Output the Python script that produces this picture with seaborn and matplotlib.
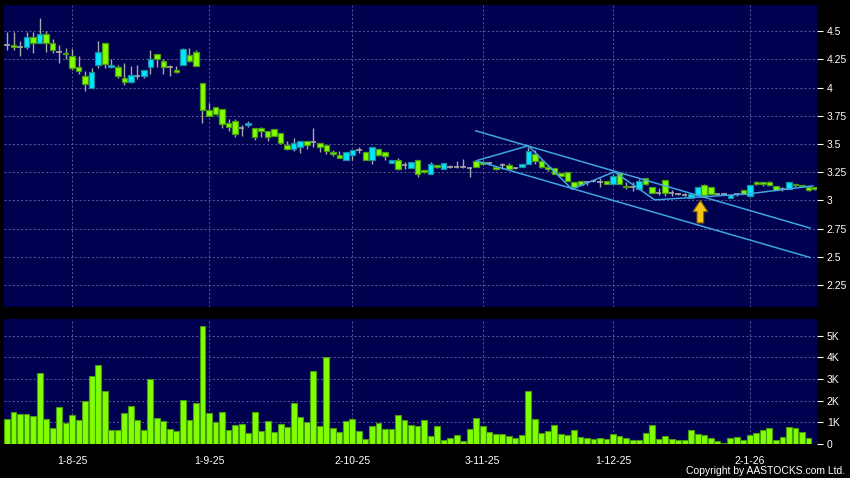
import numpy as np
import pandas as pd
import matplotlib
matplotlib.use("Agg")
import matplotlib.pyplot as plt
import seaborn as sns
from matplotlib.patches import Polygon

# trading calendar (HK), 18 Jul 2025 - 16 Jan 2026
holidays = ["2025-10-01", "2025-10-07", "2025-10-29", "2025-12-25", "2025-12-26", "2026-01-01"]
days = pd.bdate_range("2025-07-18", "2026-01-16")
days = days[~days.isin(pd.to_datetime(holidays))]

opens = [4.38, 4.38, 4.36, 4.36, 4.45, 4.40, 4.48, 4.40, 4.32, 4.31,
         4.28, 4.18, 4.10, 4.00, 4.20, 4.40, 4.18, 4.18, 4.09, 4.05,
         4.10, 4.10, 4.18, 4.30, 4.24, 4.18, 4.16, 4.20, 4.29, 4.32,
         4.04, 3.80, 3.83, 3.81, 3.69, 3.70, 3.64, 3.67, 3.64, 3.64,
         3.62, 3.63, 3.60, 3.49, 3.46, 3.47, 3.53, 3.52, 3.51, 3.49,
         3.43, 3.40, 3.36, 3.40, 3.45, 3.43, 3.36, 3.46, 3.43, 3.33,
         3.36, 3.31, 3.29, 3.36, 3.27, 3.23, 3.31, 3.28, 3.30, 3.30,
         3.30, 3.29, 3.35, 3.34, 3.33, 3.30, 3.31, 3.31, 3.29, 3.30,
         3.32, 3.41, 3.35, 3.30, 3.29, 3.24, 3.25, 3.16, 3.17, 3.16,
         3.17, 3.16, 3.17, 3.15, 3.24, 3.13, 3.12, 3.10, 3.20, 3.12,
         3.07, 3.18, 3.07, 3.06, 3.05, 3.02, 3.05, 3.14, 3.12, 3.06,
         3.06, 3.02, 3.06, 3.09, 3.04, 3.16, 3.16, 3.16, 3.13, 3.10,
         3.10, 3.15, 3.14, 3.12, 3.12]
highs = [4.49, 4.49, 4.41, 4.49, 4.49, 4.62, 4.50, 4.43, 4.38, 4.35,
         4.34, 4.28, 4.15, 4.17, 4.41, 4.40, 4.25, 4.20, 4.22, 4.19,
         4.20, 4.16, 4.33, 4.30, 4.25, 4.20, 4.19, 4.35, 4.35, 4.33,
         4.04, 3.86, 3.83, 3.81, 3.72, 3.72, 3.67, 3.70, 3.64, 3.65,
         3.62, 3.63, 3.60, 3.53, 3.55, 3.53, 3.53, 3.64, 3.51, 3.49,
         3.45, 3.44, 3.43, 3.45, 3.47, 3.43, 3.47, 3.46, 3.43, 3.36,
         3.38, 3.34, 3.34, 3.36, 3.27, 3.34, 3.31, 3.33, 3.31, 3.35,
         3.37, 3.30, 3.35, 3.35, 3.34, 3.30, 3.33, 3.33, 3.30, 3.32,
         3.47, 3.45, 3.36, 3.31, 3.29, 3.24, 3.25, 3.16, 3.17, 3.17,
         3.18, 3.20, 3.17, 3.23, 3.25, 3.16, 3.16, 3.19, 3.20, 3.12,
         3.11, 3.18, 3.09, 3.07, 3.07, 3.06, 3.12, 3.15, 3.12, 3.07,
         3.07, 3.05, 3.07, 3.09, 3.14, 3.17, 3.16, 3.17, 3.13, 3.12,
         3.16, 3.15, 3.14, 3.12, 3.12]
lows = [4.33, 4.33, 4.28, 4.34, 4.31, 4.40, 4.32, 4.31, 4.22, 4.25,
        4.16, 4.12, 3.97, 4.00, 4.17, 4.17, 4.17, 4.09, 4.02, 4.04,
        4.08, 4.09, 4.12, 4.18, 4.12, 4.10, 4.13, 4.20, 4.23, 4.19,
        3.69, 3.75, 3.76, 3.64, 3.62, 3.56, 3.57, 3.65, 3.54, 3.56,
        3.53, 3.57, 3.50, 3.45, 3.44, 3.42, 3.46, 3.47, 3.43, 3.41,
        3.39, 3.38, 3.36, 3.36, 3.42, 3.36, 3.32, 3.39, 3.36, 3.33,
        3.27, 3.28, 3.29, 3.21, 3.24, 3.23, 3.29, 3.28, 3.29, 3.29,
        3.29, 3.21, 3.30, 3.31, 3.31, 3.27, 3.28, 3.27, 3.28, 3.30,
        3.32, 3.32, 3.29, 3.26, 3.23, 3.22, 3.17, 3.12, 3.14, 3.14,
        3.16, 3.12, 3.15, 3.15, 3.15, 3.10, 3.08, 3.10, 3.14, 3.07,
        3.05, 3.04, 3.04, 3.05, 3.04, 3.02, 3.05, 3.04, 3.06, 3.05,
        3.05, 3.02, 3.04, 3.06, 3.04, 3.14, 3.13, 3.13, 3.09, 3.08,
        3.10, 3.12, 3.12, 3.08, 3.09]
closes = [4.38, 4.36, 4.36, 4.45, 4.40, 4.48, 4.40, 4.33, 4.32, 4.30,
          4.17, 4.15, 4.03, 4.14, 4.32, 4.21, 4.20, 4.10, 4.05, 4.11,
          4.10, 4.16, 4.25, 4.25, 4.18, 4.18, 4.14, 4.34, 4.24, 4.19,
          3.80, 3.75, 3.77, 3.68, 3.65, 3.59, 3.64, 3.69, 3.56, 3.62,
          3.56, 3.57, 3.51, 3.46, 3.51, 3.53, 3.49, 3.52, 3.47, 3.44,
          3.41, 3.38, 3.43, 3.45, 3.45, 3.36, 3.47, 3.40, 3.39, 3.36,
          3.28, 3.31, 3.34, 3.23, 3.25, 3.32, 3.30, 3.33, 3.30, 3.30,
          3.30, 3.29, 3.30, 3.32, 3.33, 3.28, 3.31, 3.28, 3.29, 3.32,
          3.44, 3.35, 3.30, 3.28, 3.23, 3.22, 3.17, 3.12, 3.14, 3.16,
          3.17, 3.16, 3.15, 3.22, 3.15, 3.12, 3.12, 3.17, 3.15, 3.07,
          3.07, 3.07, 3.07, 3.06, 3.05, 3.06, 3.12, 3.05, 3.06, 3.06,
          3.06, 3.05, 3.06, 3.06, 3.14, 3.15, 3.15, 3.14, 3.09, 3.10,
          3.16, 3.14, 3.13, 3.09, 3.10]
volume_k = [1.17, 1.48, 1.37, 1.38, 1.29, 3.28, 1.15, 0.72, 1.69, 0.98,
            1.35, 1.11, 1.98, 3.15, 3.66, 2.46, 0.66, 0.66, 1.43, 1.77,
            1.11, 0.65, 3.02, 1.22, 1.05, 0.71, 0.60, 2.05, 1.11, 1.91,
            5.45, 1.45, 1.03, 1.48, 0.65, 0.89, 0.92, 0.52, 1.46, 0.60,
            1.05, 0.55, 0.94, 0.78, 1.89, 1.25, 1.02, 3.37, 0.82, 4.02,
            0.75, 0.57, 1.06, 1.14, 0.60, 0.23, 0.85, 0.97, 0.68, 0.71,
            1.35, 1.12, 0.89, 0.82, 1.09, 0.38, 0.83, 0.20, 0.29, 0.42,
            0.15, 0.71, 1.22, 0.85, 0.57, 0.45, 0.45, 0.38, 0.29, 0.43,
            2.46, 1.17, 0.52, 0.62, 0.86, 0.48, 0.42, 0.66, 0.32, 0.29,
            0.23, 0.29, 0.23, 0.46, 0.35, 0.28, 0.18, 0.20, 0.49, 0.88,
            0.22, 0.37, 0.23, 0.20, 0.18, 0.63, 0.45, 0.40, 0.29, 0.14,
            0.06, 0.26, 0.31, 0.18, 0.42, 0.50, 0.66, 0.72, 0.18, 0.31,
            0.78, 0.74, 0.54, 0.26, 0.0]

tick_dates = ["2025-08-01", "2025-09-01", "2025-10-02", "2025-11-03", "2025-12-01", "2026-01-02"]
tick_labels = ["1-8-25", "1-9-25", "2-10-25", "3-11-25", "1-12-25", "2-1-26"]
price_ticks = [2.25, 2.5, 2.75, 3.0, 3.25, 3.5, 3.75, 4.0, 4.25, 4.5]
price_labels = ["2.25", "2.5", "2.75", "3", "3.25", "3.5", "3.75", "4", "4.25", "4.5"]
vol_ticks = [0, 1, 2, 3, 4, 5]
vol_labels = ["0", "1K", "2K", "3K", "4K", "5K"]

# drawn trend channel (x = trading-day index, y = price)
upper_x = [71.9, 123.3]
upper_y = [3.618, 2.754]
lower_x = [72.0, 123.3]
lower_y = [3.352, 2.493]
zigzag_x = [72.0, 80.0, 86.7, 93.2, 99.4, 113.7, 123.7]
zigzag_y = [3.352, 3.485, 3.10, 3.254, 3.005, 3.058, 3.129]
arrow_x = 106.4
arrow_tip, arrow_neck, arrow_base = 3.0, 2.90, 2.80

navy = "#000050"
green, green_edge = "#80ff00", "#4a9a10"
cyan, cyan_edge = "#00e8ff", "#1a8aa0"
wick = "#a8a8a8"
grid_kw = dict(color="#66669a", linestyle=(0, (2.5, 2.5)), linewidth=0.6)

sns.set_style("dark")
plt.rcParams["font.family"] = ["Liberation Sans", "DejaVu Sans"]

fig = plt.figure(figsize=(8.5, 4.78), dpi=100, facecolor="black")
ax = fig.add_axes([4 / 850, 171 / 478, 813 / 850, 302 / 478], facecolor=navy)
axv = fig.add_axes([4 / 850, 34 / 478, 813 / 850, 125 / 478], facecolor=navy)

x = np.arange(len(opens))
o = np.array(opens)
c = np.array(closes)
up, down, flat = c > o, c < o, c == o
tick_pos = [days.get_loc(pd.Timestamp(d)) for d in tick_dates]

# candles
ax.vlines(x, lows, highs, color=wick, linewidth=1, zorder=2)
ax.bar(x[up], (c - o)[up], bottom=o[up], width=0.85, color=cyan,
       edgecolor=cyan_edge, linewidth=0.9, zorder=3)
ax.bar(x[down], (o - c)[down], bottom=c[down], width=0.85, color=green,
       edgecolor=green_edge, linewidth=0.9, zorder=3)
ax.hlines(o[flat], x[flat] - 0.42, x[flat] + 0.42, color=wick, linewidth=1.2, zorder=3)

# channel lines
for lx, ly in [(upper_x, upper_y), (lower_x, lower_y), (zigzag_x, zigzag_y)]:
    sns.lineplot(x=lx, y=ly, ax=ax, color="#3ea6e0", linewidth=1.1, sort=False, zorder=4)

hw, sw = 1.15, 0.52
arrow = Polygon([(arrow_x, arrow_tip), (arrow_x + hw, arrow_neck), (arrow_x + sw, arrow_neck),
                 (arrow_x + sw, arrow_base), (arrow_x - sw, arrow_base), (arrow_x - sw, arrow_neck),
                 (arrow_x - hw, arrow_neck)], closed=True, facecolor="#f6c31c",
                edgecolor="#7a5a00", linewidth=0.8, zorder=5)
ax.add_patch(arrow)

ax.set_xlim(-0.46, 124.3)
ax.set_ylim(2.055, 4.733)
ax.yaxis.tick_right()
ax.set_yticks(price_ticks, price_labels)
ax.set_xticks(tick_pos, [""] * len(tick_pos))
ax.tick_params(axis="y", colors="white", length=4, width=0.8, pad=3, labelsize=7.5)
ax.tick_params(axis="x", length=0)
ax.grid(True, **grid_kw)
ax.set_axisbelow(True)

# volume
sns.barplot(x=x, y=volume_k, native_scale=True, width=0.9, color=green, saturation=1,
            edgecolor=green_edge, linewidth=0.8, errorbar=None, ax=axv, zorder=3)
axv.set_xlim(-0.46, 124.3)
axv.set_ylim(0, 5.77)
axv.yaxis.tick_right()
axv.set_yticks(vol_ticks, vol_labels)
axv.set_xticks(tick_pos, tick_labels)
axv.tick_params(axis="y", colors="white", length=4, width=0.8, pad=3, labelsize=7.5)
axv.tick_params(axis="x", colors="white", length=3, width=0.8, pad=6, labelsize=7.5)
axv.grid(True, **grid_kw)
axv.set_axisbelow(True)
axv.set_xlabel("")
axv.set_ylabel("")

for a in (ax, axv):
    for s in a.spines.values():
        s.set_visible(False)

fig.text(845 / 850, 7 / 478, "Copyright by AASTOCKS.com Ltd.", color="white",
         fontsize=7.5, ha="right", va="center")

fig.savefig("out.png", dpi=100, facecolor="black")
